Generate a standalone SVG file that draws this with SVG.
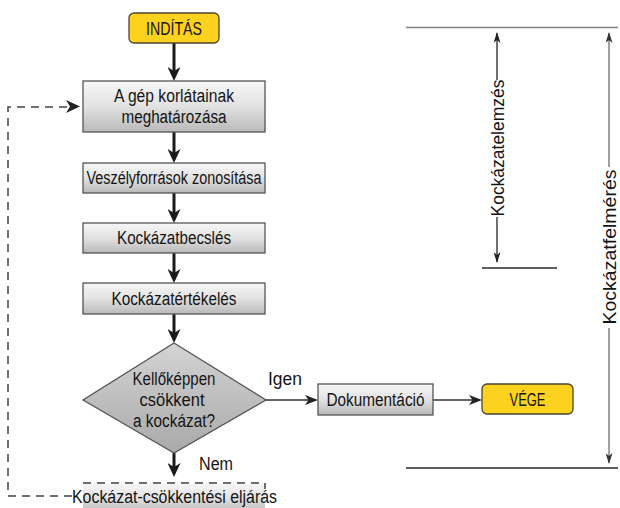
<svg xmlns="http://www.w3.org/2000/svg" width="620" height="508" viewBox="0 0 620 508">
<style>
text{font-family:"Liberation Sans",Arial,sans-serif;font-size:18px;fill:#151515;}
.c{text-anchor:middle}
.box{fill:url(#g);stroke:#555;stroke-width:1.3}
.term{fill:#FCD21E;stroke:#4a4530;stroke-width:1.3}
.thick{stroke:#1a1a1a;stroke-width:3;fill:none}
.thin{stroke:#333;stroke-width:1.4;fill:none}
.dash{stroke:#444;stroke-width:1.5;fill:none;stroke-dasharray:8 6}
</style>
<defs>
<linearGradient id="g" x1="0" y1="0" x2="0" y2="1">
<stop offset="0" stop-color="#f7f7f7"/><stop offset="0.5" stop-color="#e2e2e2"/><stop offset="1" stop-color="#b9b9b9"/>
</linearGradient>
<linearGradient id="gd" x1="0" y1="0" x2="0" y2="1">
<stop offset="0" stop-color="#d4d4d4"/><stop offset="1" stop-color="#a9a9a9"/>
</linearGradient>
<marker id="ah" viewBox="0 0 14 13" refX="10" refY="6.5" markerWidth="14" markerHeight="13" markerUnits="userSpaceOnUse" orient="auto">
<path d="M0,0 L14,6.5 L0,13 L4,6.5 z" fill="#1a1a1a"/>
</marker>
<marker id="at" viewBox="0 0 13 10" refX="11" refY="5" markerWidth="13" markerHeight="10" markerUnits="userSpaceOnUse" orient="auto">
<path d="M0,0 L13,5 L0,10 L3.5,5 z" fill="#222"/>
</marker>
<marker id="as" viewBox="0 0 11 7" refX="10" refY="3.5" markerWidth="11" markerHeight="7" markerUnits="userSpaceOnUse" orient="auto">
<path d="M0,0 L11,3.5 L0,7 L3,3.5 z" fill="#222"/>
</marker>
<marker id="asg" viewBox="0 0 11 7" refX="10" refY="3.5" markerWidth="11" markerHeight="7" markerUnits="userSpaceOnUse" orient="auto">
<path d="M0,0 L11,3.5 L0,7 L3,3.5 z" fill="#333"/>
</marker>
</defs>

<g id="connectors">
<path class="thick" d="M174,43 V77" marker-end="url(#ah)"/>
<path class="thick" d="M174,132 V159" marker-end="url(#ah)"/>
<path class="thick" d="M174,193 V219" marker-end="url(#ah)"/>
<path class="thick" d="M174,253 V279" marker-end="url(#ah)"/>
<path class="thick" d="M174,314 V339" marker-end="url(#ah)"/>
<path class="thick" d="M174,453 V473" marker-end="url(#ah)"/>
<path class="thin" d="M266,400 H316" marker-end="url(#at)"/>
<path class="thin" d="M433,400 H480" marker-end="url(#at)"/>
<path class="dash" d="M72,496 H8 V107 H70"/>
<path d="M66,100 L80,106.5 L66,113 L70,106.5 z" fill="#222"/>
</g>

<g id="start">
<rect class="term" x="129" y="13" width="90" height="30" rx="5"/>
<text class="c" x="174" y="34.5" textLength="56" lengthAdjust="spacingAndGlyphs">INDÍTÁS</text>
</g>
<g id="n1">
<rect class="box" x="83" y="81" width="182" height="51"/>
<text class="c" x="174" y="102" textLength="120" lengthAdjust="spacingAndGlyphs">A gép korlátainak</text>
<text class="c" x="174" y="123" textLength="105" lengthAdjust="spacingAndGlyphs">meghatározása</text>
</g>
<g id="n2">
<rect class="box" x="83" y="163" width="182" height="30"/>
<text class="c" x="174" y="184" textLength="175" lengthAdjust="spacingAndGlyphs">Veszélyforrások zonosítása</text>
</g>
<g id="n3">
<rect class="box" x="83" y="223" width="182" height="30"/>
<text class="c" x="174" y="244" textLength="114" lengthAdjust="spacingAndGlyphs">Kockázatbecslés</text>
</g>
<g id="n4">
<rect class="box" x="83" y="283" width="182" height="31"/>
<text class="c" x="174" y="304.5" textLength="125" lengthAdjust="spacingAndGlyphs">Kockázatértékelés</text>
</g>
<g id="decision">
<path d="M174,343 L266,400 L174,453 L83,400 z" fill="url(#gd)" stroke="#555" stroke-width="1.3"/>
<text class="c" x="174" y="385" textLength="83" lengthAdjust="spacingAndGlyphs">Kellőképpen</text>
<text class="c" x="172" y="406" textLength="65" lengthAdjust="spacingAndGlyphs">csökkent</text>
<text class="c" x="174" y="427" textLength="82" lengthAdjust="spacingAndGlyphs">a kockázat?</text>
</g>
<g id="labels">
<text x="268" y="385" textLength="34" lengthAdjust="spacingAndGlyphs">Igen</text>
<text x="199" y="470" textLength="34" lengthAdjust="spacingAndGlyphs">Nem</text>
</g>
<g id="doc">
<rect class="box" x="318" y="384" width="115" height="31"/>
<text class="c" x="375.5" y="405.5" textLength="98" lengthAdjust="spacingAndGlyphs">Dokumentáció</text>
</g>
<g id="end">
<rect class="term" x="482" y="384" width="91" height="30" rx="5"/>
<text class="c" x="527.5" y="405.5" textLength="36" lengthAdjust="spacingAndGlyphs">VÉGE</text>
</g>
<g id="reduce">
<rect x="83" y="483" width="182" height="30" fill="url(#g)" stroke="none"/>
<path class="dash" d="M83,483 H265 V489"/>
<text x="72" y="503" textLength="205" lengthAdjust="spacingAndGlyphs">Kockázat-csökkentési eljárás</text>
</g>

<g id="scale">
<line x1="406" y1="27.5" x2="618" y2="27.5" stroke="#808080" stroke-width="1.6"/>
<line x1="406" y1="468" x2="618" y2="468" stroke="#2a2a2a" stroke-width="1.6"/>
<line x1="482" y1="268" x2="557" y2="268" stroke="#2a2a2a" stroke-width="1.4"/>
<path d="M497,80 V33" stroke="#222" stroke-width="1.3" fill="none" marker-end="url(#as)"/>
<path d="M497,217 V262" stroke="#222" stroke-width="1.3" fill="none" marker-end="url(#as)"/>
<text class="c" transform="translate(503.5,148) rotate(-90)" textLength="137" lengthAdjust="spacingAndGlyphs">Kockázatelemzés</text>
<path d="M609,167 V33" stroke="#777" stroke-width="1.4" fill="none" marker-end="url(#asg)"/>
<path d="M609,328 V463" stroke="#777" stroke-width="1.4" fill="none" marker-end="url(#asg)"/>
<text class="c" transform="translate(616,247) rotate(-90)" textLength="155" lengthAdjust="spacingAndGlyphs">Kockázatfelmérés</text>
</g>
</svg>
